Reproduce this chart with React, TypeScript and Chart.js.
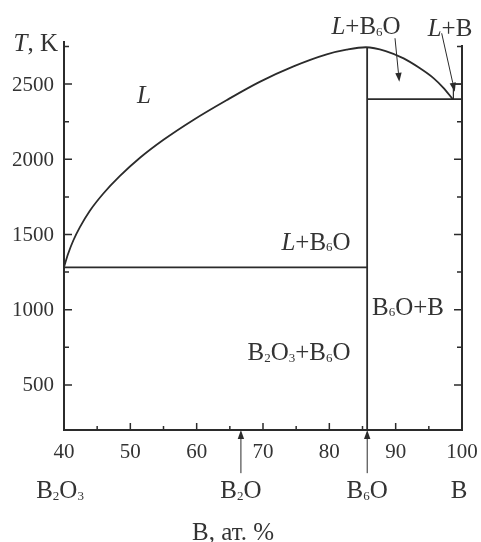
import React, { useEffect, useRef } from "react";
import { Chart, registerables } from "chart.js";

Chart.register(...registerables);

// ---- data ----
const liquidusX = [40, 40.15, 40.65, 41.4, 42.4, 43.9, 45.9, 48.4, 51.5, 55, 59.5, 64.5, 69.5, 74.6, 79.6, 82.6, 85.5, 88.5, 91.2, 93.5, 95.7, 97.2, 98.6];
const liquidusT = [1282, 1305, 1375, 1460, 1549, 1658, 1771, 1888, 2012, 2130, 2262, 2393, 2515, 2618, 2698, 2729, 2745, 2720, 2671, 2610, 2540, 2475, 2400];

const eutecticX = [40, 85.7];
const eutecticT = [1282, 1282];

const b6oX = [85.7, 85.7];
const b6oT = [200, 2745];

const upperX = [85.7, 100];
const upperT = [2400, 2400];

const boxX = [98.7, 98.7, 100];
const boxT = [2400, 2500, 2500];

const rightAxisX = [100, 100];
const rightAxisT = [200, 2760];

const xMin = 40, xMax = 100, yMin = 200, yMax = 2780;
const xTickLabels = [40, 50, 60, 70, 80, 90, 100];
const yTickLabels = [500, 1000, 1500, 2000, 2500];

const FONT = "'Liberation Serif', 'Times New Roman', serif";
const LINE = "#2b2b2b";
const TEXT = "#333";

type Seg = { t: string; sub?: boolean; it?: boolean };

// annotation positions (data units)
const labels: { segs: Seg[]; x: number; y: number; size: number; align?: "center" | "right" }[] = [
  { segs: [{ t: "T", it: true }, { t: ", K" }], x: 39.1, y: 2773, size: 25, align: "right" },
  { segs: [{ t: "L", it: true }], x: 52.06, y: 2427, size: 25 },
  { segs: [{ t: "L", it: true }, { t: "+B" }, { t: "6", sub: true }, { t: "O" }], x: 85.53, y: 2887, size: 25 },
  { segs: [{ t: "L", it: true }, { t: "+B" }], x: 98.19, y: 2873, size: 25 },
  { segs: [{ t: "L", it: true }, { t: "+B" }, { t: "6", sub: true }, { t: "O" }], x: 77.99, y: 1453, size: 25 },
  { segs: [{ t: "B" }, { t: "6", sub: true }, { t: "O+B" }], x: 91.86, y: 1020, size: 25 },
  { segs: [{ t: "B" }, { t: "2", sub: true }, { t: "O" }, { t: "3", sub: true }, { t: "+B" }, { t: "6", sub: true }, { t: "O" }], x: 75.43, y: 720, size: 25 },
  { segs: [{ t: "B" }, { t: "2", sub: true }, { t: "O" }, { t: "3", sub: true }], x: 39.4, y: -200, size: 25 },
  { segs: [{ t: "B" }, { t: "2", sub: true }, { t: "O" }], x: 66.67, y: -200, size: 25 },
  { segs: [{ t: "B" }, { t: "6", sub: true }, { t: "O" }], x: 85.71, y: -200, size: 25 },
  { segs: [{ t: "B" }], x: 99.55, y: -200, size: 25 },
  { segs: [{ t: "B, ат. %" }], x: 65.48, y: -475, size: 25 },
];

const arrows = [
  { x1: 89.9, y1: 2805, x2: 90.55, y2: 2515 },
  { x1: 96.94, y1: 2838, x2: 98.9, y2: 2450 },
  { x1: 66.67, y1: -87, x2: 66.67, y2: 200 },
  { x1: 85.71, y1: -87, x2: 85.71, y2: 200 },
];

function segFont(s: Seg, size: number) {
  const sz = s.sub ? Math.round(size * 0.5) : size;
  return `${s.it ? "italic " : ""}${sz}px ${FONT}`;
}

function drawRich(ctx: CanvasRenderingContext2D, segs: Seg[], x: number, y: number, size: number, align: string) {
  let w = 0;
  for (const s of segs) {
    ctx.font = segFont(s, size);
    w += ctx.measureText(s.t).width;
  }
  let cx = align === "right" ? x - w : x - w / 2;
  ctx.textBaseline = "alphabetic";
  ctx.textAlign = "left";
  const base = y + size * 0.33;
  for (const s of segs) {
    ctx.font = segFont(s, size);
    ctx.fillText(s.t, cx, s.sub ? base + size * 0.06 : base);
    cx += ctx.measureText(s.t).width;
  }
}

function drawArrow(ctx: CanvasRenderingContext2D, x1: number, y1: number, x2: number, y2: number) {
  const ang = Math.atan2(y2 - y1, x2 - x1);
  const hl = 9, hw = 3.2;
  const bx = x2 - hl * Math.cos(ang), by = y2 - hl * Math.sin(ang);
  ctx.beginPath();
  ctx.moveTo(x1, y1);
  ctx.lineTo(bx, by);
  ctx.lineWidth = 1;
  ctx.strokeStyle = LINE;
  ctx.stroke();
  ctx.beginPath();
  ctx.moveTo(x2, y2);
  ctx.lineTo(bx + hw * Math.sin(ang), by - hw * Math.cos(ang));
  ctx.lineTo(bx - hw * Math.sin(ang), by + hw * Math.cos(ang));
  ctx.closePath();
  ctx.fillStyle = LINE;
  ctx.fill();
}

const overlay = {
  id: "overlay",
  afterDraw(chart: any) {
    const ctx: CanvasRenderingContext2D = chart.ctx;
    const xs = chart.scales.x, ys = chart.scales.y;
    const px = (v: number) => xs.getPixelForValue(v);
    const py = (v: number) => ys.getPixelForValue(v);
    ctx.save();
    ctx.strokeStyle = LINE;
    ctx.lineWidth = 1.5;
    // x ticks (inward)
    for (let v = 40; v <= 100; v += 5) {
      const len = v % 10 === 0 ? 7 : 4;
      ctx.beginPath();
      ctx.moveTo(px(v), py(yMin));
      ctx.lineTo(px(v), py(yMin) - len);
      ctx.stroke();
    }
    // y ticks left and right (inward)
    for (let v = 500; v <= 2750; v += 250) {
      const len = v % 500 === 0 ? 8 : 5;
      ctx.beginPath();
      ctx.moveTo(px(xMin), py(v));
      ctx.lineTo(px(xMin) + len, py(v));
      ctx.moveTo(px(xMax), py(v));
      ctx.lineTo(px(xMax) - len, py(v));
      ctx.stroke();
    }
    // tick labels
    ctx.fillStyle = TEXT;
    ctx.font = `21px ${FONT}`;
    ctx.textBaseline = "middle";
    ctx.textAlign = "center";
    for (const v of xTickLabels) ctx.fillText(String(v), px(v), py(yMin) + 22);
    ctx.textAlign = "right";
    for (const v of yTickLabels) ctx.fillText(String(v), px(xMin) - 10, py(v) + 1);
    for (const a of arrows) drawArrow(ctx, px(a.x1), py(a.y1), px(a.x2), py(a.y2));
    ctx.fillStyle = TEXT;
    for (const l of labels) drawRich(ctx, l.segs, px(l.x), py(l.y), l.size, l.align || "center");
    ctx.restore();
  },
};

export default function App() {
  const ref = useRef<HTMLCanvasElement>(null);
  useEffect(() => {
    document.body.style.margin = "0";
    const mk = (xa: number[], ya: number[]) => xa.map((x, i) => ({ x, y: ya[i] }));
    const lineDs = (xa: number[], ya: number[], w = 1.8) => ({
      data: mk(xa, ya),
      showLine: true,
      borderColor: LINE,
      borderWidth: w,
      pointRadius: 0,
      fill: false,
      clip: false as any,
    });
    const chart = new Chart(ref.current!, {
      type: "scatter",
      data: {
        datasets: [
          { ...lineDs(liquidusX, liquidusT), cubicInterpolationMode: "monotone" as const },
          lineDs(eutecticX, eutecticT),
          lineDs(b6oX, b6oT),
          lineDs(upperX, upperT),
          lineDs(boxX, boxT, 1.2),
          lineDs(rightAxisX, rightAxisT, 2),
        ],
      },
      options: {
        responsive: false,
        animation: false,
        layout: { padding: { top: 42, right: 19, left: 0, bottom: 0 } },
        plugins: { legend: { display: false }, tooltip: { enabled: false } },
        scales: {
          x: {
            type: "linear",
            min: xMin,
            max: xMax,
            grid: { display: false, drawTicks: false },
            border: { display: true, color: LINE, width: 2 },
            ticks: { display: false },
            afterFit: (s: any) => {
              s.height = 112;
            },
          },
          y: {
            type: "linear",
            min: yMin,
            max: yMax,
            grid: { display: false, drawTicks: false },
            border: { display: true, color: LINE, width: 2 },
            ticks: { display: false },
            afterFit: (s: any) => {
              s.width = 64;
            },
          },
        },
      },
      plugins: [overlay],
    });
    return () => chart.destroy();
  }, []);
  return (
    <div style={{ position: "absolute", left: 0, top: 0, width: 481, height: 542, background: "#fff" }}>
      <canvas ref={ref} width={481} height={542} />
    </div>
  );
}
